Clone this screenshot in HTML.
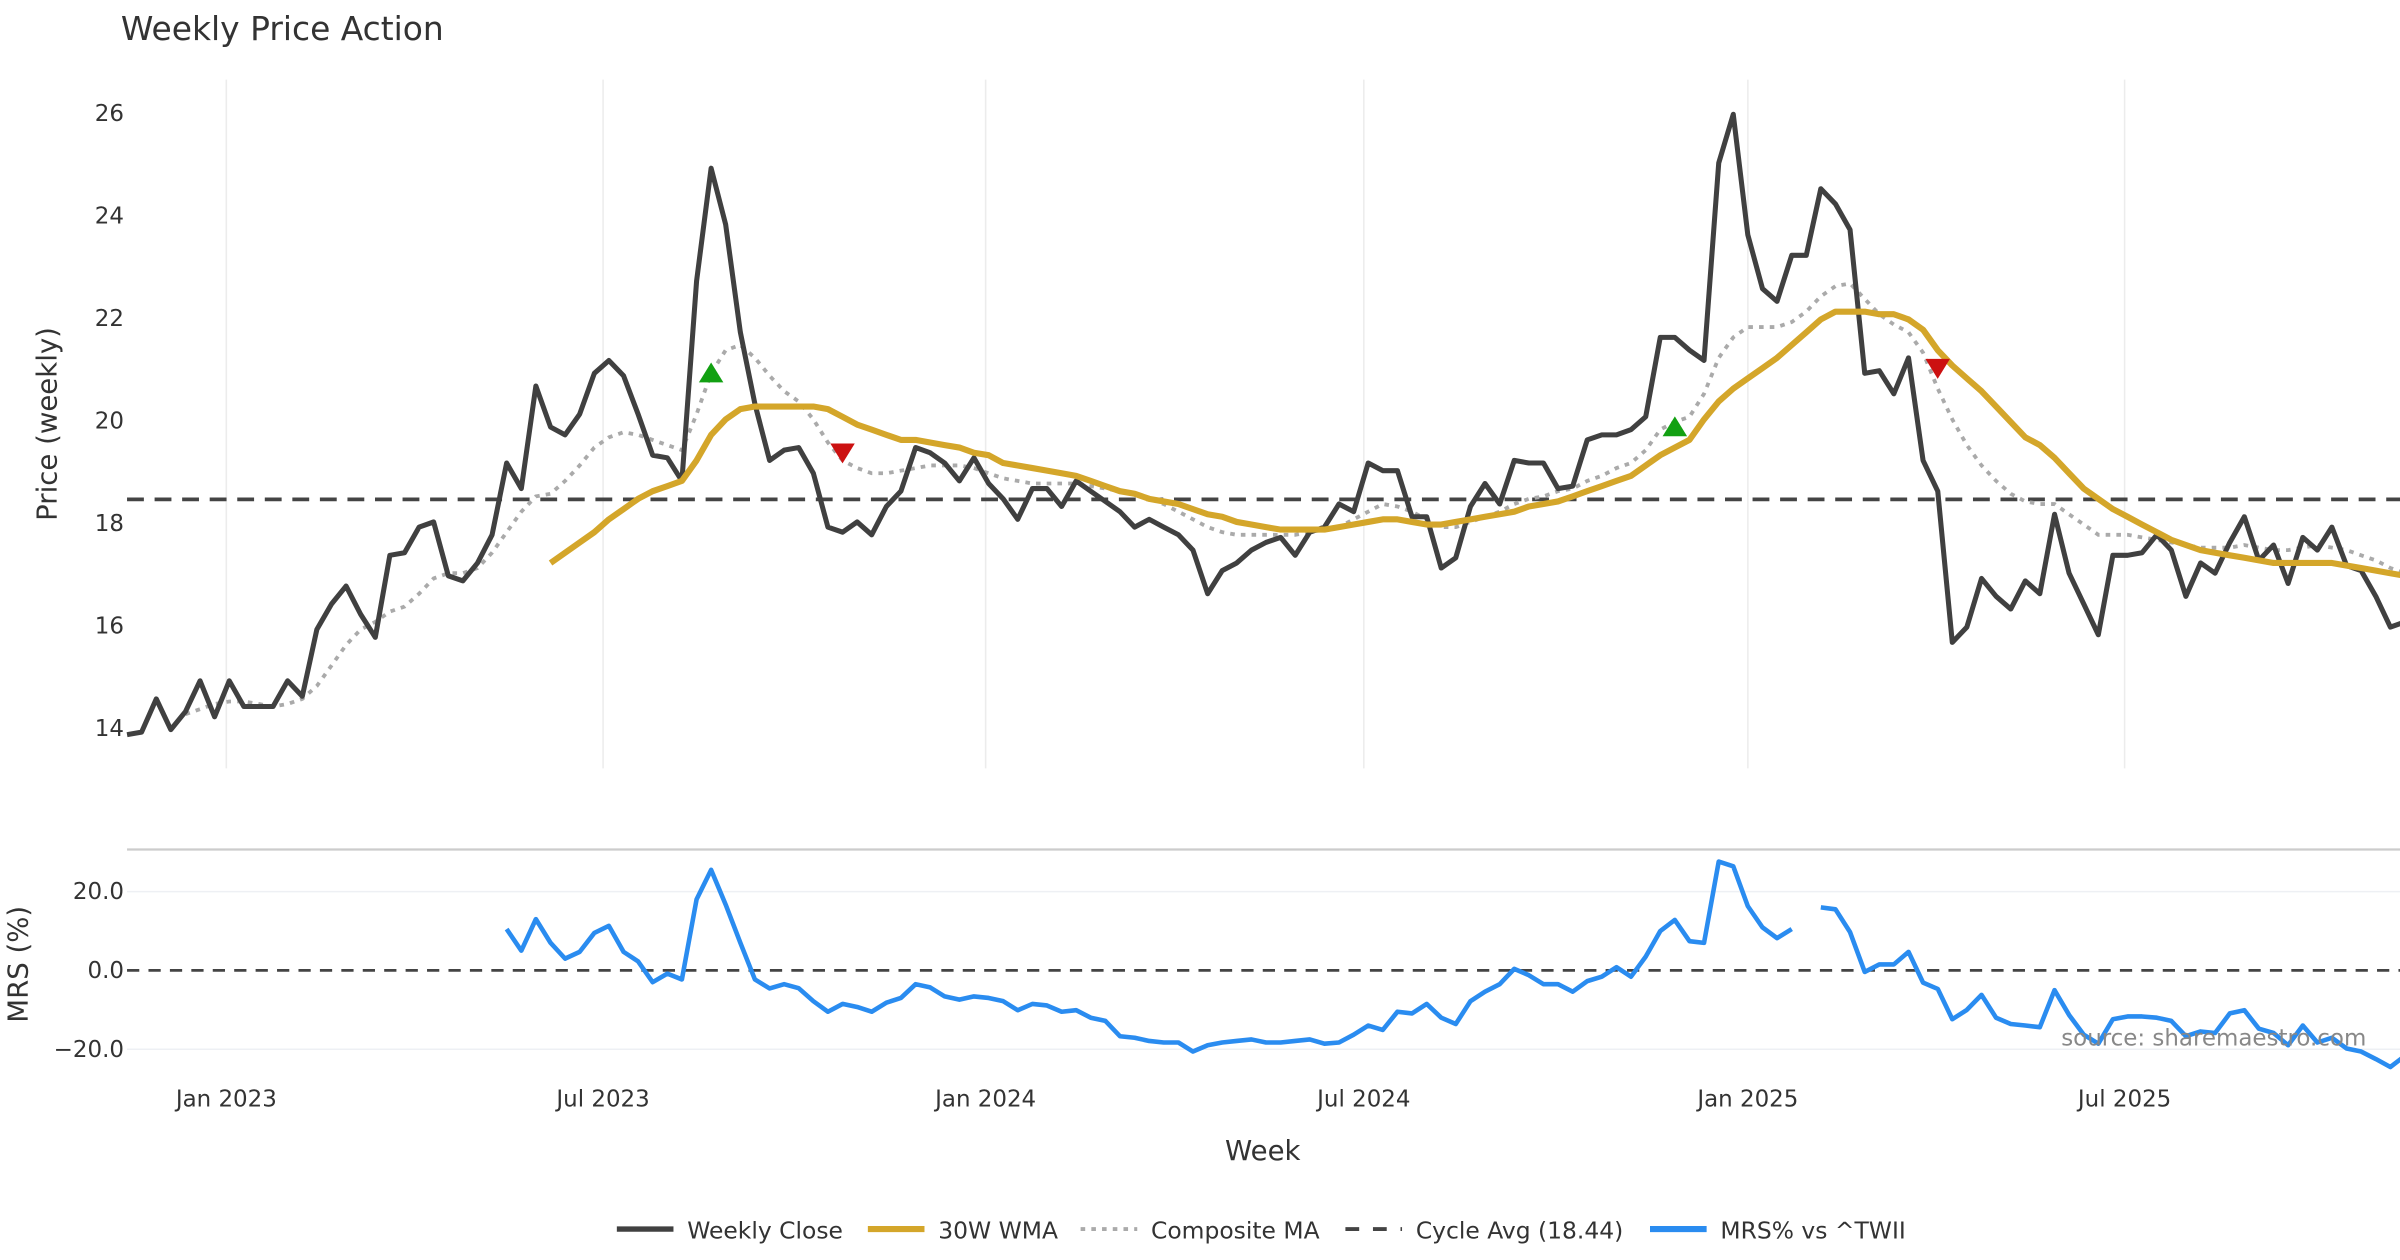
<!DOCTYPE html>
<html><head><meta charset="utf-8">
<style>
html,body{margin:0;padding:0;background:#fff;}
svg{display:block;font-family:"DejaVu Sans","Liberation Sans",sans-serif;}
</style></head>
<body>
<svg id="chart" width="2400" height="1260" viewBox="0 0 1568 823.2" preserveAspectRatio="none" xmlns="http://www.w3.org/2000/svg">
<rect x="0" y="0" width="1568" height="823.2" fill="#fff"/>
<text x="79" y="26" font-size="21.5" fill="#333">Weekly Price Action</text>
<g id="grid"></g>
<g id="price"></g>
<g id="mrs"></g>
<g id="axes"></g>
<text transform="translate(37,277) rotate(-90)" text-anchor="middle" font-size="18" fill="#333">Price (weekly)</text>
<text transform="translate(18,630) rotate(-90)" text-anchor="middle" font-size="18" fill="#333">MRS (%)</text>
<text x="825" y="758" text-anchor="middle" font-size="18" fill="#333">Week</text>
<text x="1546" y="683" text-anchor="end" font-size="15" fill="#888">source: sharemaestro.com</text>
<g id="legend"></g>
</svg>
<script>
const closeVals=[13.85,13.9,14.55,13.95,14.3,14.9,14.2,14.9,14.4,14.4,14.4,14.9,14.6,15.9,16.4,16.75,16.2,15.75,17.35,17.4,17.9,18.0,16.95,16.85,17.2,17.75,19.15,18.65,20.65,19.85,19.7,20.1,20.9,21.15,20.85,20.1,19.3,19.25,18.8,22.7,24.9,23.8,21.7,20.3,19.2,19.4,19.45,18.95,17.9,17.8,18.0,17.75,18.3,18.6,19.45,19.35,19.15,18.8,19.25,18.75,18.45,18.05,18.65,18.65,18.3,18.8,18.6,18.4,18.2,17.9,18.05,17.9,17.75,17.45,16.6,17.05,17.2,17.45,17.6,17.7,17.35,17.8,17.9,18.35,18.2,19.15,19.0,19.0,18.1,18.1,17.1,17.3,18.3,18.75,18.35,19.2,19.15,19.15,18.65,18.7,19.6,19.7,19.7,19.8,20.05,21.6,21.6,21.35,21.15,25.0,25.95,23.6,22.55,22.3,23.2,23.2,24.5,24.2,23.7,20.9,20.95,20.5,21.2,19.2,18.6,15.65,15.95,16.9,16.55,16.3,16.85,16.6,18.15,17.0,16.4,15.8,17.35,17.35,17.4,17.75,17.45,16.55,17.2,17.0,17.6,18.1,17.25,17.55,16.8,17.7,17.45,17.9,17.15,17.05,16.55,15.95,16.05];
const wmaStart=29;
const wmaVals=[17.2,17.4,17.6,17.8,18.05,18.25,18.45,18.6,18.7,18.8,19.2,19.7,20.0,20.2,20.25,20.25,20.25,20.25,20.25,20.2,20.05,19.9,19.8,19.7,19.6,19.6,19.55,19.5,19.45,19.35,19.3,19.15,19.1,19.05,19.0,18.95,18.9,18.8,18.7,18.6,18.55,18.45,18.4,18.35,18.25,18.15,18.1,18.0,17.95,17.9,17.85,17.85,17.85,17.85,17.9,17.95,18.0,18.05,18.05,18.0,17.95,17.95,18.0,18.05,18.1,18.15,18.2,18.3,18.35,18.4,18.5,18.6,18.7,18.8,18.9,19.1,19.3,19.45,19.6,20.0,20.35,20.6,20.8,21.0,21.2,21.45,21.7,21.95,22.1,22.1,22.1,22.05,22.05,21.95,21.75,21.35,21.05,20.8,20.55,20.25,19.95,19.65,19.5,19.25,18.95,18.65,18.45,18.25,18.1,17.95,17.8,17.65,17.55,17.45,17.4,17.35,17.3,17.25,17.2,17.2,17.2,17.2,17.2,17.15,17.1,17.05,17.0,16.95];
const compStart=4;
const compVals=[14.25,14.35,14.45,14.5,14.5,14.45,14.4,14.45,14.55,14.8,15.2,15.6,15.9,16.05,16.25,16.35,16.6,16.9,17.0,17.0,17.1,17.4,17.8,18.2,18.5,18.55,18.8,19.1,19.45,19.65,19.75,19.7,19.6,19.5,19.4,20.1,20.9,21.35,21.45,21.2,20.85,20.55,20.35,20.0,19.55,19.2,19.05,18.95,18.95,19.0,19.05,19.1,19.1,19.1,19.05,18.95,18.85,18.8,18.75,18.75,18.75,18.75,18.7,18.65,18.6,18.55,18.45,18.35,18.2,18.05,17.9,17.8,17.75,17.75,17.75,17.75,17.75,17.8,17.85,17.9,18.05,18.2,18.35,18.3,18.2,18.05,17.9,17.9,18.0,18.1,18.2,18.35,18.45,18.5,18.6,18.65,18.8,18.9,19.05,19.15,19.4,19.8,19.95,20.05,20.5,21.2,21.6,21.8,21.8,21.8,21.9,22.1,22.4,22.6,22.65,22.35,22.05,21.85,21.7,21.3,20.6,20.0,19.5,19.1,18.8,18.55,18.4,18.35,18.35,18.15,17.95,17.75,17.75,17.75,17.7,17.65,17.6,17.55,17.5,17.5,17.5,17.55,17.5,17.45,17.45,17.5,17.55,17.5,17.45,17.35,17.25,17.1,17.0,16.95];
const mrsStart=26;
const mrsVals=[10.5,5,13,7,3,4.7,9.5,11.3,4.7,2.3,-3,-0.8,-2.3,18,25.5,16.7,7,-2.3,-4.6,-3.5,-4.5,-7.8,-10.5,-8.5,-9.3,-10.5,-8.2,-7,-3.5,-4.3,-6.6,-7.4,-6.6,-7,-7.8,-10.1,-8.5,-8.9,-10.5,-10.1,-12,-12.8,-16.7,-17.1,-17.9,-18.3,-18.3,-20.6,-19,-18.3,-17.9,-17.5,-18.3,-18.3,-17.9,-17.5,-18.6,-18.3,-16.3,-14,-15.1,-10.5,-10.9,-8.5,-12,-13.6,-7.8,-5.4,-3.5,0.4,-1.2,-3.5,-3.5,-5.4,-2.7,-1.6,0.8,-1.6,3.5,10,12.8,7.4,7,27.6,26.4,16.3,10.9,8.2,10.5,null,16,15.5,9.7,-0.4,1.5,1.5,4.7,-3.1,-4.7,-12.4,-10,-6.2,-12,-13.6,-14,-14.4,-5,-11.3,-16.3,-18.6,-12.4,-11.7,-11.7,-12,-12.8,-16.7,-15.5,-15.9,-10.9,-10.1,-14.8,-15.9,-19,-14,-18.3,-17.1,-19.8,-20.6,-22.5,-24.5,-21.7];
const buyIdx=[40,106];
const buyVals=[20.9,19.85];
const sellIdx=[49,124];
const sellVals=[19.35,21.0];
const cycleAvg=18.44;
const priceTicks=[14,16,18,20,22,24,26];
const mrsTicks=[20,0,-20];
const mrsTickLabels=["20.0","0.0","\u221220.0"];
const dateTickIdx=[6.8,32.6,58.8,84.7,111.0,136.8];
const dateTickLabels=["Jan 2023","Jul 2023","Jan 2024","Jul 2024","Jan 2025","Jul 2025"];

const NS="http://www.w3.org/2000/svg";
const X0=83,DX=9.54;
function xs(i){return X0+i*DX;}
function yp(v){return 475-(v-14)*33.5;}
function ym(v){return 634-v*2.575;}
function mk(tag,attrs,parent){const e=document.createElementNS(NS,tag);for(const k in attrs)e.setAttribute(k,attrs[k]);parent.appendChild(e);return e;}
const grid=document.getElementById('grid'),price=document.getElementById('price'),mrs=document.getElementById('mrs'),axes=document.getElementById('axes'),legend=document.getElementById('legend');

dateTickIdx.forEach((t,k)=>{
  const l=mk('line',{x1:xs(t),x2:xs(t),y1:52,y2:502,stroke:'#ececec','stroke-width':1},grid);
  
  
  const tx=mk('text',{x:xs(t),y:723,'text-anchor':'middle','font-size':15,fill:'#333'},axes);
  tx.textContent=dateTickLabels[k];
  
  
});
priceTicks.forEach(v=>{
  const tx=mk('text',{x:81,y:yp(v)+6,'text-anchor':'end','font-size':15,fill:'#333'},axes);
  tx.textContent=v;
  
  
});
const sep=mk('line',{x1:83,x2:1568,y1:555,y2:555,stroke:'#cccccc','stroke-width':1.5},grid);


mrsTicks.forEach((v,k)=>{
  if(v!==0){const g=mk('line',{x1:83,x2:1568,y1:ym(v),y2:ym(v),stroke:'#eef0f4','stroke-width':1},grid);
  
  }
  const tx=mk('text',{x:81,y:ym(v)+5,'text-anchor':'end','font-size':15,fill:'#333'},axes);
  tx.textContent=mrsTickLabels[k];
  
  
});
function pathFrom(vals,start,yf){let d='',pen=false;vals.forEach((v,k)=>{if(v===null){pen=false;return;}d+=(pen?'L':'M')+xs(start+k).toFixed(1)+' '+yf(v).toFixed(1);pen=true;});return d;}
const cyc=mk('line',{x1:83,x2:1568,y1:yp(cycleAvg),y2:yp(cycleAvg),stroke:'#444','stroke-width':2.5,'stroke-dasharray':'11 7'},price);


const comp=mk('path',{d:pathFrom(compVals,compStart,yp),fill:'none',stroke:'#aaaaaa','stroke-width':2.5,'stroke-dasharray':'3 4'},price);


const cl=mk('path',{d:pathFrom(closeVals,0,yp),fill:'none',stroke:'#404040','stroke-width':3.3,'stroke-linejoin':'round'},price);


const wma=mk('path',{d:pathFrom(wmaVals,wmaStart,yp),fill:'none',stroke:'#d4a62a','stroke-width':4,'stroke-linejoin':'round'},price);


buyIdx.forEach((i,k)=>{const x=xs(i),y=yp(buyVals[k]);
  const t=mk('path',{d:`M${x-8} ${y+6}L${x+8} ${y+6}L${x} ${y-7}Z`,fill:'#12a012'},price);
  
  });
sellIdx.forEach((i,k)=>{const x=xs(i),y=yp(sellVals[k]);
  const t=mk('path',{d:`M${x-8} ${y-6}L${x+8} ${y-6}L${x} ${y+7}Z`,fill:'#cc1111'},price);
  
  });
const z=mk('line',{x1:83,x2:1568,y1:ym(0),y2:ym(0),stroke:'#444','stroke-width':1.8,'stroke-dasharray':'8 6'},mrs);


const ml=mk('path',{d:pathFrom(mrsVals,mrsStart,ym),fill:'none',stroke:'#2a8cf0','stroke-width':3,'stroke-linejoin':'round'},mrs);



const legItems=[
 {x:403,label:'Weekly Close',stroke:'#404040',w:3.5,dash:''},
 {x:567,label:'30W WMA',stroke:'#d4a62a',w:4,dash:''},
 {x:706,label:'Composite MA',stroke:'#aaaaaa',w:2.5,dash:'3 4'},
 {x:879,label:'Cycle Avg (18.44)',stroke:'#444',w:2.5,dash:'9 9'},
 {x:1078,label:'MRS% vs ^TWII',stroke:'#2a8cf0',w:4,dash:''}];
legItems.forEach(it=>{
  const g=mk('g',{},legend);
  
  
  mk('line',{x1:it.x,x2:it.x+37,y1:803,y2:803,stroke:it.stroke,'stroke-width':it.w,'stroke-dasharray':it.dash},g);
  const t=mk('text',{x:it.x+46,y:809,'font-size':15.3,fill:'#333'},g);
  t.textContent=it.label;
});
</script>
</body></html>
